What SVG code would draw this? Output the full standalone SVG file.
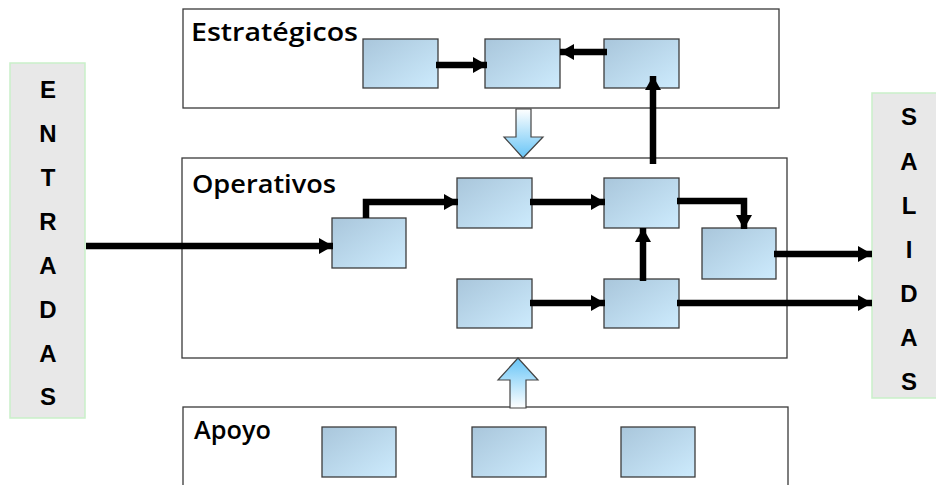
<svg xmlns="http://www.w3.org/2000/svg" width="936" height="485" viewBox="0 0 936 485">
  <defs>
    <linearGradient id="boxFill" x1="0" y1="0" x2="1" y2="1">
      <stop offset="0" stop-color="#a9c6db"/>
      <stop offset="1" stop-color="#cdebfd"/>
    </linearGradient>
    <linearGradient id="flowDown" x1="0" y1="0" x2="0" y2="1">
      <stop offset="0" stop-color="#ffffff"/>
      <stop offset="1" stop-color="#66c4f6"/>
    </linearGradient>
    <linearGradient id="flowUp" x1="0" y1="0" x2="0" y2="1">
      <stop offset="0" stop-color="#66c4f6"/>
      <stop offset="1" stop-color="#ffffff"/>
    </linearGradient>
    <marker id="head" markerUnits="userSpaceOnUse" markerWidth="16" markerHeight="18" refX="14" refY="8" orient="auto">
      <path d="M0,0 L14,8 L0,16 Z" fill="#000"/>
    </marker>
  </defs>
  <style>
    .area { fill: #ffffff; stroke: #3a3a3a; stroke-width: 1.3; }
    .proc { fill: url(#boxFill); stroke: #3c3c3c; stroke-width: 1.3; }
    .side { fill: #e8e8e8; stroke: #c9f0c9; stroke-width: 1.5; }
    .title { font-family: "Open Sans", "DejaVu Sans", sans-serif; font-weight: 600; font-size: 25px; fill: #000; }
    .letter { font-family: "Liberation Sans", Arial, sans-serif; font-weight: bold; font-size: 24px; fill: #000; text-anchor: middle; }
    .flow { fill: none; stroke: #000; stroke-width: 6.5; marker-end: url(#head); }
    .hollow { stroke: #444; stroke-width: 1.2; }
  </style>

  <!-- input / output columns -->
  <g id="entradas">
    <rect class="side" x="10" y="63" width="75" height="355"/>
    <text class="letter" x="48" y="98">E</text>
    <text class="letter" x="48" y="142">N</text>
    <text class="letter" x="48" y="186">T</text>
    <text class="letter" x="48" y="230">R</text>
    <text class="letter" x="48" y="274">A</text>
    <text class="letter" x="48" y="318">D</text>
    <text class="letter" x="48" y="362">A</text>
    <text class="letter" x="48" y="405">S</text>
  </g>
  <g id="salidas">
    <rect class="side" x="872" y="93" width="70" height="305"/>
    <text class="letter" x="909" y="125">S</text>
    <text class="letter" x="909" y="170">A</text>
    <text class="letter" x="909" y="214">L</text>
    <text class="letter" x="909" y="258">I</text>
    <text class="letter" x="909" y="302">D</text>
    <text class="letter" x="909" y="346">A</text>
    <text class="letter" x="909" y="390">S</text>
  </g>

  <!-- process areas -->
  <g id="estrategicos">
    <rect class="area" x="183" y="9" width="596" height="99"/>
    <text class="title" x="191" y="41" textLength="167" lengthAdjust="spacingAndGlyphs">Estratégicos</text>
  </g>
  <g id="operativos">
    <rect class="area" x="182" y="158" width="605" height="200"/>
    <text class="title" x="192" y="193" textLength="144" lengthAdjust="spacingAndGlyphs">Operativos</text>
  </g>
  <g id="apoyo">
    <rect class="area" x="183" y="407" width="605" height="100"/>
    <text class="title" x="194" y="439" textLength="77" lengthAdjust="spacingAndGlyphs">Apoyo</text>
  </g>

  <!-- strategic processes -->
  <g id="e1"><rect class="proc" x="363" y="39" width="75" height="49"/></g>
  <g id="e2"><rect class="proc" x="485" y="39" width="75" height="49"/></g>
  <g id="e3"><rect class="proc" x="604" y="39" width="75" height="49"/></g>

  <!-- operational processes -->
  <g id="o1"><rect class="proc" x="332" y="218" width="74" height="50"/></g>
  <g id="o2"><rect class="proc" x="457" y="178" width="75" height="50"/></g>
  <g id="o3"><rect class="proc" x="604" y="178" width="75" height="50"/></g>
  <g id="o4"><rect class="proc" x="702" y="228" width="74" height="51"/></g>
  <g id="o5"><rect class="proc" x="457" y="279" width="75" height="49"/></g>
  <g id="o6"><rect class="proc" x="604" y="279" width="75" height="49"/></g>

  <!-- support processes -->
  <g id="a1"><rect class="proc" x="322" y="427" width="74" height="50"/></g>
  <g id="a2"><rect class="proc" x="472" y="427" width="74" height="50"/></g>
  <g id="a3"><rect class="proc" x="621" y="427" width="74" height="50"/></g>

  <!-- connectors -->
  <g id="connectors">
    <path class="flow" d="M436,65 H487"/>
    <path class="flow" d="M607,52 H560"/>
    <path class="flow" d="M653,164 V76"/>
    <path class="flow" d="M86,246 H333"/>
    <path class="flow" d="M366,218 V202 H458"/>
    <path class="flow" d="M530,202 H605"/>
    <path class="flow" d="M677,201 H744 V229"/>
    <path class="flow" d="M643,281 V228"/>
    <path class="flow" d="M530,303 H605"/>
    <path class="flow" d="M677,303 H872"/>
    <path class="flow" d="M774,254 H872"/>
    <polygon class="hollow" fill="url(#flowDown)" points="516,109 531,109 531,137 543,137 523,158 504,137 516,137"/>
    <polygon class="hollow" fill="url(#flowUp)" points="518,358 538,380 526,380 526,408 510,408 510,380 498,380"/>
  </g>
</svg>
